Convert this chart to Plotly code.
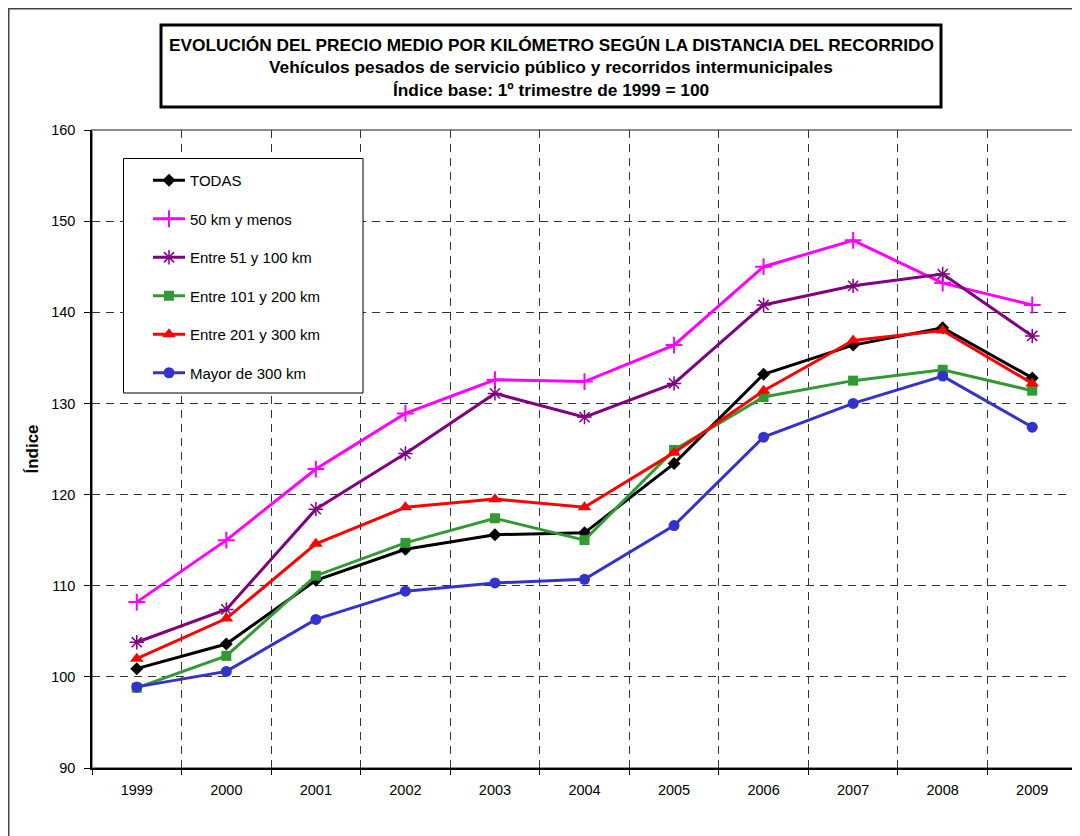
import plotly.graph_objects as go

# Índice del precio medio por km según distancia del recorrido (1999 = 100)
YEARS = ["1999", "2000", "2001", "2002", "2003", "2004", "2005", "2006", "2007", "2008", "2009"]

TODAS = [100.9, 103.6, 110.6, 114.0, 115.6, 115.8, 123.4, 133.2, 136.4, 138.3, 132.8]
KM_50_Y_MENOS = [108.2, 115.0, 122.8, 128.9, 132.6, 132.4, 136.4, 145.0, 147.9, 143.2, 140.8]
KM_51_100 = [103.8, 107.4, 118.4, 124.5, 131.1, 128.5, 132.2, 140.8, 142.9, 144.2, 137.4]
KM_101_200 = [98.8, 102.3, 111.1, 114.7, 117.4, 115.0, 124.9, 130.7, 132.5, 133.7, 131.4]
KM_201_300 = [102.0, 106.4, 114.6, 118.6, 119.5, 118.6, 124.6, 131.4, 136.9, 138.0, 132.2]
KM_MAS_300 = [98.9, 100.6, 106.3, 109.4, 110.3, 110.7, 116.6, 126.3, 130.0, 133.0, 127.4]

Y_TICKS = [90, 100, 110, 120, 130, 140, 150, 160]

FONT = "Arial, Liberation Sans, sans-serif"

SERIES = [
    ("TODAS", TODAS, "#000000", dict(symbol="diamond", size=10)),
    ("50 km y menos", KM_50_Y_MENOS, "#FF00FF", dict(symbol="cross-thin-open", size=12, line=dict(width=2, color="#FF00FF"))),
    ("Entre 51 y 100 km", KM_51_100, "#800080", dict(symbol="asterisk-open", size=12, line=dict(width=1.5, color="#800080"))),
    ("Entre 101 y 200 km", KM_101_200, "#339933", dict(symbol="square", size=10)),
    ("Entre 201 y 300 km", KM_201_300, "#FF0000", dict(symbol="triangle-up", size=12)),
    ("Mayor de 300 km", KM_MAS_300, "#3333CC", dict(symbol="circle", size=11)),
]

fig = go.Figure()
for i, (name, vals, color, marker) in enumerate(SERIES):
    fig.add_trace(go.Scatter(
        x=YEARS, y=vals, name=name, mode="lines+markers",
        line=dict(color=color, width=3),
        marker=dict(color=color, **marker),
        legendgroup=f"g{i}",
    ))

# the page adds an 8px body margin, so page pixel = figure pixel + 8
OFF = 8
W, H = 1072, 828
L, R, T, B = 84, 3, 122, 68
pw, ph = W - L - R, H - T - B


def px(x):
    """page x pixel -> paper coordinate"""
    return (x - OFF - L) / pw


def py(y):
    """page y pixel -> paper coordinate"""
    return (H - B - (y - OFF)) / ph


shapes = [
    # outer chart frame
    dict(type="rect", xref="paper", yref="paper",
         x0=px(OFF + 0.5), x1=px(1100), y0=py(860), y1=py(OFF + 0.5),
         line=dict(color="#444444", width=2), layer="below"),
    # plot area frame (grey top/right)
    dict(type="rect", xref="paper", yref="paper", x0=0, x1=1, y0=0, y1=1,
         line=dict(color="#8c8c8c", width=2), layer="below"),
    # title box
    dict(type="rect", xref="paper", yref="paper",
         x0=px(161), x1=px(941), y0=py(107), y1=py(25),
         line=dict(color="#000000", width=3), fillcolor="white"),
    # legend box
    dict(type="rect", xref="paper", yref="paper",
         x0=px(123.5), x1=px(363), y0=py(393), y1=py(158.5),
         line=dict(color="#000000", width=1), fillcolor="white"),
]

title_lines = [
    ("EVOLUCIÓN DEL PRECIO MEDIO POR KILÓMETRO SEGÚN LA DISTANCIA DEL RECORRIDO", 45),
    ("Vehículos pesados de servicio público y recorridos intermunicipales", 67),
    ("Índice base: 1º trimestre de 1999 = 100", 90),
]
annotations = [
    dict(text=f"<b>{t}</b>", xref="paper", yref="paper", x=px(551), y=py(yc),
         xanchor="center", yanchor="middle", showarrow=False,
         font=dict(family=FONT, size=17.3, color="#000000"))
    for t, yc in title_lines
]

fig.update_layout(
    width=W, height=H,
    margin=dict(l=L, r=R, t=T, b=B, autoexpand=False),
    paper_bgcolor="white", plot_bgcolor="white",
    font=dict(family=FONT, size=14, color="#000000"),
    shapes=shapes,
    annotations=annotations,
    showlegend=True,
    legend=dict(
        x=px(148), y=py(164), xanchor="left", yanchor="top",
        borderwidth=0, bgcolor="rgba(0,0,0,0)",
        font=dict(family=FONT, size=15), itemwidth=32,
        tracegroupgap=16, traceorder="grouped",
    ),
)

fig.update_xaxes(
    type="category", tickson="boundaries", range=[-0.5, len(YEARS) - 0.5],
    showline=True, linecolor="#000000", linewidth=1.5,
    ticks="outside", ticklen=5, tickcolor="#000000",
    showgrid=True, gridcolor="#333333", gridwidth=1, griddash="8px,6px",
    tickfont=dict(family=FONT, size=14.5), ticklabelstandoff=8,
    zeroline=False,
)
fig.update_yaxes(
    range=[90, 160], tickvals=Y_TICKS,
    showline=True, linecolor="#000000", linewidth=1.5,
    ticks="outside", ticklen=6, tickcolor="#000000",
    showgrid=True, gridcolor="#333333", gridwidth=1, griddash="8px,6px",
    tickfont=dict(family=FONT, size=14.5), ticklabelstandoff=6,
    title=dict(text="<b>Índice</b>", font=dict(family=FONT, size=17), standoff=8),
    zeroline=False,
)

fig.write_html("out.html")
